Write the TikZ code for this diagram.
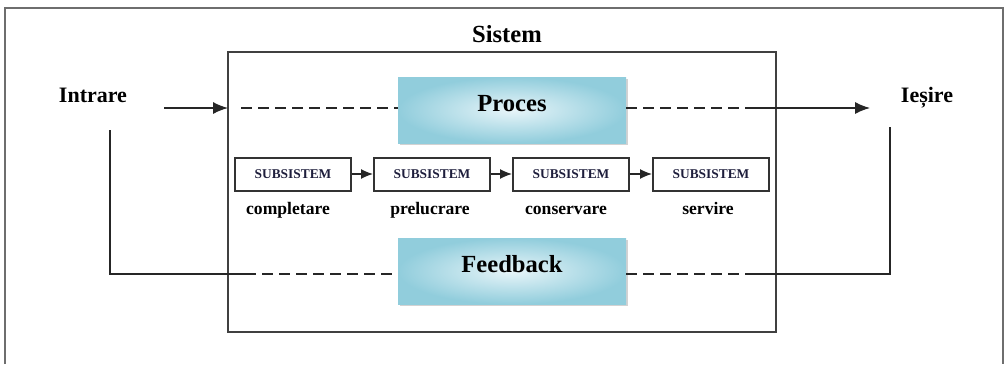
\documentclass[tikz,border=0pt]{standalone}
\usepackage{fontspec}
\setmainfont{Liberation Serif}
\tikzset{>=latex}
\usetikzlibrary{arrows.meta}
\usetikzlibrary{shadows}
\definecolor{procdark}{RGB}{145,205,220}
\definecolor{proclight}{RGB}{232,245,249}
\definecolor{frame}{RGB}{110,110,110}
\definecolor{subtext}{RGB}{30,30,60}
\begin{document}
\begin{tikzpicture}[x=0.5pt, y=-0.5pt]
            \tikzset{block/.style={inner color=proclight, outer color=procdark, minimum width=114pt, minimum height=33pt,
                drop shadow={shadow xshift=1pt, shadow yshift=-1.2pt, fill=gray!70}, font=\fontsize{12.3}{14}\selectfont\bfseries,
                text height=5pt, text depth=4pt}}
            \tikzset{subbox/.style={draw=black!80, line width=1pt, fill=white, minimum width=58pt, minimum height=16.5pt, inner sep=0pt,
                font=\fontsize{6.7}{8}\selectfont\bfseries, text=subtext}}
            \tikzset{sublabel/.style={anchor=base, font=\fontsize{8.8}{10}\selectfont\bfseries}}
            \tikzset{biglabel/.style={anchor=base, font=\fontsize{11}{13}\selectfont\bfseries}}
            \tikzset{flow/.style={line width=0.65pt, black!85}}
            \tikzset{bigtip/.style={flow, -{Latex[length=7.5pt, width=6pt]}}}
            \tikzset{smalltip/.style={flow, -{Latex[length=6pt, width=5pt]}}}
            \tikzset{flowdash/.style={flow, dash pattern=on 5.5pt off 3pt}}
            \useasboundingbox (0,0) rectangle (1005,364);
            % outer frame (cut at the bottom)
            \draw[frame, line width=0.6pt] (5,364) -- (5,8) -- (1003,8) -- (1003,364);
            % system
            \draw[black!75, line width=1.1pt] (228,52) rectangle (776,332);
            \coordinate (sys) at (228,108);
            \node[anchor=base, font=\fontsize{12.3}{14}\selectfont\bfseries] (sistem) at (507,42) {Sistem};
            \node[biglabel] (intrare) at (93,102) {Intrare};
            \node[biglabel] (iesire) at (927,102) {Ieșire};
            \node[block] (proc) at (512,110) {Proces};
            \node[block] (feed) at (512,271) {Feedback};
            % subsystems
            \node[subbox] (sub1) at (293,174) {SUBSISTEM};
            \node[subbox] (sub2) at (432,174) {SUBSISTEM};
            \node[subbox] (sub3) at (571,174) {SUBSISTEM};
            \node[subbox] (sub4) at (711,174) {SUBSISTEM};
            \node[sublabel] (lab1) at (288,214) {completare};
            \node[sublabel] (lab2) at (430,214) {prelucrare};
            \node[sublabel] (lab3) at (566,214) {conservare};
            \node[sublabel] (lab4) at (708,214) {servire};
            \draw[smalltip] (sub1) -- (sub2);
            \draw[smalltip] (sub2) -- (sub3);
            \draw[smalltip] (sub3) -- (sub4);
            % input / output
            \coordinate (inStart) at (164,108);
            \coordinate (inDash) at (241,108);
            \coordinate (outDash) at (745,108);
            \coordinate (outEnd) at (870,108);
            \draw[bigtip] (inStart) -- (sys);
            \draw[flowdash] (inDash) -- (proc.west |- inDash);
            \draw[flowdash] (proc.east |- outDash) -- (outDash);
            \draw[bigtip] (outDash) -- (outEnd);
            % feedback loop
            \coordinate (fbLeftTop) at (110,130);
            \coordinate (fbLeftBot) at (110,274);
            \coordinate (fbLeftDash) at (245,274);
            \coordinate (fbRightDash) at (745,274);
            \coordinate (fbRightBot) at (890,274);
            \coordinate (fbRightTop) at (890,127);
            \draw[flow] (fbLeftTop) -- (fbLeftBot) -- (fbLeftDash);
            \draw[flowdash] (fbLeftDash) -- (feed.west |- fbLeftDash);
            \draw[flowdash] (feed.east |- fbRightDash) -- (fbRightDash);
            \draw[flow] (fbRightDash) -- (fbRightBot) -- (fbRightTop);
        \end{tikzpicture}
\end{document}
